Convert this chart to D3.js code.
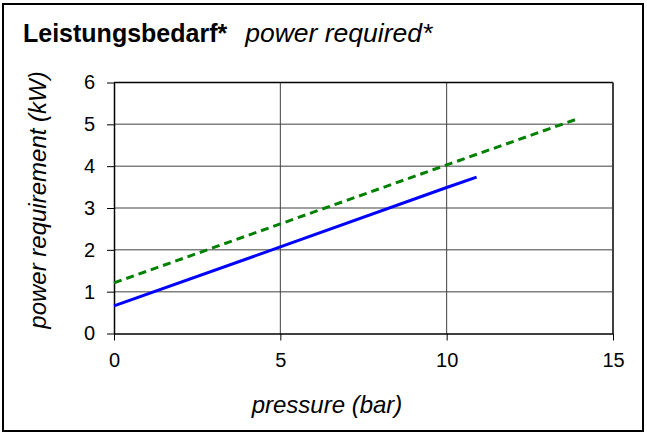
<!DOCTYPE html>
<html>
<head>
<meta charset="utf-8">
<script src="https://cdn.jsdelivr.net/npm/d3@7"></script>
<style>
  body { margin: 0; background: #fff; }
  text { font-family: "Liberation Sans", Arial, sans-serif; }
</style>
</head>
<body>
<div class="chartHolder"></div>
<script>
var width = 647;
var height = 435;

// data
var xTicks = [0, 5, 10, 15];
var yTicks = [0, 1, 2, 3, 4, 5, 6];
var solidX = [0, 5, 10, 10.9];
var solidY = [0.66, 2.07, 3.49, 3.74];
var dashedX = [0, 5, 10, 14];
var dashedY = [1.21, 2.62, 4.03, 5.15];

var margin = { left: 114, right: 34, top: 82.5, bottom: 101.5 };

var svg = d3
  .select(".chartHolder")
  .append("svg")
  .attr("width", width)
  .attr("height", height);

// outer frame
svg.append("rect")
  .attr("x", 3).attr("y", 4)
  .attr("width", 640).attr("height", 427)
  .attr("fill", "none")
  .attr("stroke", "#000")
  .attr("stroke-width", 2);

var xScale = d3.scaleLinear().domain([0, 15]).range([margin.left, width - margin.right]);
var yScale = d3.scaleLinear().domain([0, 6]).range([height - margin.bottom, margin.top]);

// grid
svg.append("g")
  .selectAll("line")
  .data(yTicks.slice(1, -1))
  .enter()
  .append("line")
  .attr("x1", xScale(0)).attr("x2", xScale(15))
  .attr("y1", d => yScale(d)).attr("y2", d => yScale(d))
  .attr("stroke", "#808080")
  .attr("stroke-width", 1.5);

svg.append("g")
  .selectAll("line")
  .data(xTicks.slice(1, -1))
  .enter()
  .append("line")
  .attr("x1", d => xScale(d)).attr("x2", d => xScale(d))
  .attr("y1", yScale(0)).attr("y2", yScale(6))
  .attr("stroke", "#404040")
  .attr("stroke-width", 1);

// plot border top / right
svg.append("line")
  .attr("x1", xScale(0)).attr("x2", xScale(15))
  .attr("y1", yScale(6)).attr("y2", yScale(6))
  .attr("stroke", "#000").attr("stroke-width", 1.5);
svg.append("line")
  .attr("x1", xScale(15)).attr("x2", xScale(15))
  .attr("y1", yScale(0)).attr("y2", yScale(6))
  .attr("stroke", "#404040").attr("stroke-width", 2);

// axes
var xAxis = d3.axisBottom(xScale).tickValues(xTicks).tickFormat(d3.format("d"))
  .tickSize(7).tickPadding(12).tickSizeOuter(0);
var yAxis = d3.axisLeft(yScale).tickValues(yTicks).tickFormat(d3.format("d"))
  .tickSize(7).tickPadding(12).tickSizeOuter(0);

var gx = svg.append("g")
  .attr("transform", "translate(0," + yScale(0) + ")")
  .call(xAxis);
var gy = svg.append("g")
  .attr("transform", "translate(" + xScale(0) + ",0)")
  .call(yAxis);

[gx, gy].forEach(function (g) {
  g.select(".domain").attr("stroke", "#000").attr("stroke-width", 1.5);
  g.selectAll(".tick line").attr("stroke", "#000");
  g.selectAll(".tick text")
    .attr("fill", "#000")
    .style("font-size", "20px")
    .style("font-family", "'Liberation Sans', Arial, sans-serif");
});

// lines
var line = d3.line().x(d => xScale(d[0])).y(d => yScale(d[1]));

svg.append("path")
  .datum(solidX.map((x, i) => [x, solidY[i]]))
  .attr("d", line)
  .attr("fill", "none")
  .attr("stroke", "#0000ff")
  .attr("stroke-width", 3);

svg.append("path")
  .datum(dashedX.map((x, i) => [x, dashedY[i]]))
  .attr("d", line)
  .attr("fill", "none")
  .attr("stroke", "#008000")
  .attr("stroke-width", 3)
  .attr("stroke-dasharray", "8,5");

// titles
var title = svg.append("text")
  .attr("x", 23)
  .attr("y", 42);
title.append("tspan").attr("font-weight", "bold").style("font-size", "25px").text("Leistungsbedarf*");
title.append("tspan").attr("dx", 18).attr("font-style", "italic").style("font-size", "26.5px").text("power required*");

svg.append("text")
  .attr("transform", "translate(46,200) rotate(-90)")
  .attr("text-anchor", "middle")
  .attr("font-style", "italic")
  .style("font-size", "24px")
  .text("power requirement (kW)");

svg.append("text")
  .attr("x", 327)
  .attr("y", 413)
  .attr("text-anchor", "middle")
  .attr("font-style", "italic")
  .style("font-size", "24px")
  .text("pressure (bar)");
</script>
</body>
</html>
